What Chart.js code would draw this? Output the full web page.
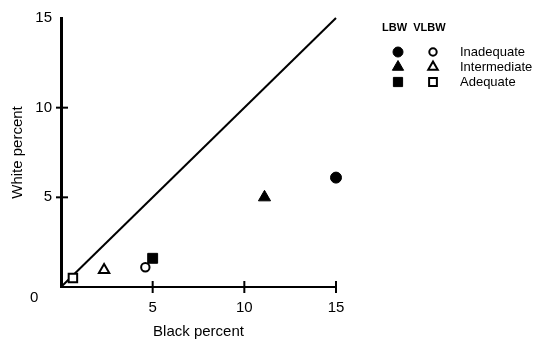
<!DOCTYPE html>
<html>
<head>
<meta charset="utf-8">
<script src="https://cdn.jsdelivr.net/npm/chart.js@4"></script>
<style>
  body { margin: 0; background: #fff; }
  #wrap { position: relative; width: 539px; height: 342px; }
  .lg { position: absolute; font-family: "Liberation Sans", Arial, sans-serif; color: #000; white-space: nowrap; }
  .hd { font-size: 11px; font-weight: bold; }
  .tx { font-size: 13px; }
</style>
</head>
<body>
<div id="wrap">
  <canvas id="chart" width="539" height="342"></canvas>
  <div class="lg hd" style="left:382px;top:21px;">LBW&nbsp;&nbsp;VLBW</div>
  <div class="lg tx" style="left:460px;top:44px;">Inadequate</div>
  <div class="lg tx" style="left:460px;top:59px;">Intermediate</div>
  <div class="lg tx" style="left:460px;top:74px;">Adequate</div>
  <div class="lg" style="left:30px;top:288px;font-size:15px;">0</div>
</div>
<script>
// values (percent)
var groups = ['Inadequate', 'Intermediate', 'Adequate'];
var lbwBlack = [15, 11.1, 5.0];
var lbwWhite = [6.1, 5.0, 1.6];
var vlbwBlack = [4.6, 2.35, 0.65];
var vlbwWhite = [1.1, 0.95, 0.5];
var shapes = ['circle', 'triangle', 'rect'];
var filledSize = [5.5, 7, 7];
var openSize = [4.2, 6, 6];
var tickValues = [5, 10, 15];
var legendRows = [52, 67, 82]; // pixel rows of the legend symbols

var datasets = [];
groups.forEach(function (g, i) {
    datasets.push({
        label: 'LBW ' + g,
        data: [{ x: lbwBlack[i], y: lbwWhite[i] }],
        pointStyle: shapes[i],
        pointRadius: filledSize[i],
        backgroundColor: '#000',
        borderColor: '#000',
        borderWidth: 1,
        clip: false
    });
    datasets.push({
        label: 'VLBW ' + g,
        data: [{ x: vlbwBlack[i], y: vlbwWhite[i] }],
        pointStyle: shapes[i],
        pointRadius: openSize[i],
        backgroundColor: '#fff',
        borderColor: '#000',
        borderWidth: 2,
        clip: false
    });
});
// line of equality
datasets.push({
    type: 'line',
    label: 'equal',
    data: [{ x: 0, y: 0 }, { x: 15, y: 15 }],
    borderColor: '#000',
    borderWidth: 2,
    pointRadius: 0,
    clip: false
});

// tick marks crossing the axes + legend symbols
var extras = {
    id: 'extras',
    afterDraw: function (chart) {
        var ctx = chart.ctx;
        var xs = chart.scales.x, ys = chart.scales.y;
        ctx.save();
        ctx.strokeStyle = '#000';
        ctx.lineWidth = 2;
        tickValues.forEach(function (v) {
            var px = xs.getPixelForValue(v);
            ctx.beginPath();
            ctx.moveTo(px, ys.bottom - 6);
            ctx.lineTo(px, ys.bottom + 6);
            ctx.stroke();
            if (v < 15) {
                var py = ys.getPixelForValue(v);
                ctx.beginPath();
                ctx.moveTo(xs.left - 5, py);
                ctx.lineTo(xs.left + 7, py);
                ctx.stroke();
            }
        });
        ctx.restore();
        // legend symbols
        datasets.slice(0, 6).forEach(function (ds, k) {
            var row = Math.floor(k / 2);
            var x = k % 2 == 0 ? 398 : 433;
            ctx.save();
            ctx.fillStyle = ds.backgroundColor;
            ctx.strokeStyle = '#000';
            ctx.lineWidth = ds.borderWidth;
            Chart.helpers.drawPoint(ctx, {
                pointStyle: ds.pointStyle,
                radius: ds.pointRadius - 0.5,
                rotation: 0,
                borderWidth: ds.borderWidth
            }, x, legendRows[row]);
            ctx.restore();
        });
    }
};

new Chart(document.getElementById('chart').getContext('2d'), {
    type: 'scatter',
    data: { datasets: datasets },
    options: {
        responsive: false,
        animation: false,
        layout: { padding: { left: 0, right: 203, top: 17, bottom: 0 } },
        plugins: { legend: { display: false }, tooltip: { enabled: false } },
        scales: {
            x: {
                min: 0, max: 15,
                afterFit: function (s) { s.height = 55; },
                grid: { display: false, drawTicks: false },
                border: { color: '#000', width: 2 },
                ticks: {
                    stepSize: 5, padding: 12, color: '#000',
                    font: { family: 'Liberation Sans', size: 15 },
                    callback: function (v) { return v == 0 ? '' : v; }
                },
                title: {
                    display: true, text: 'Black percent', color: '#000',
                    font: { family: 'Liberation Sans', size: 15 },
                    padding: { top: 0, bottom: 1 }
                }
            },
            y: {
                min: 0, max: 15,
                afterFit: function (s) { s.width = 61; },
                grid: { display: false, drawTicks: false },
                border: { color: '#000', width: 3 },
                ticks: {
                    stepSize: 5, padding: 9, color: '#000',
                    font: { family: 'Liberation Sans', size: 15 },
                    callback: function (v) { return v == 0 ? '' : v; }
                },
                title: {
                    display: true, text: 'White percent', color: '#000',
                    font: { family: 'Liberation Sans', size: 15 },
                    padding: { top: 9, bottom: 0 }
                }
            }
        }
    },
    plugins: [extras]
});
</script>
</body>
</html>
